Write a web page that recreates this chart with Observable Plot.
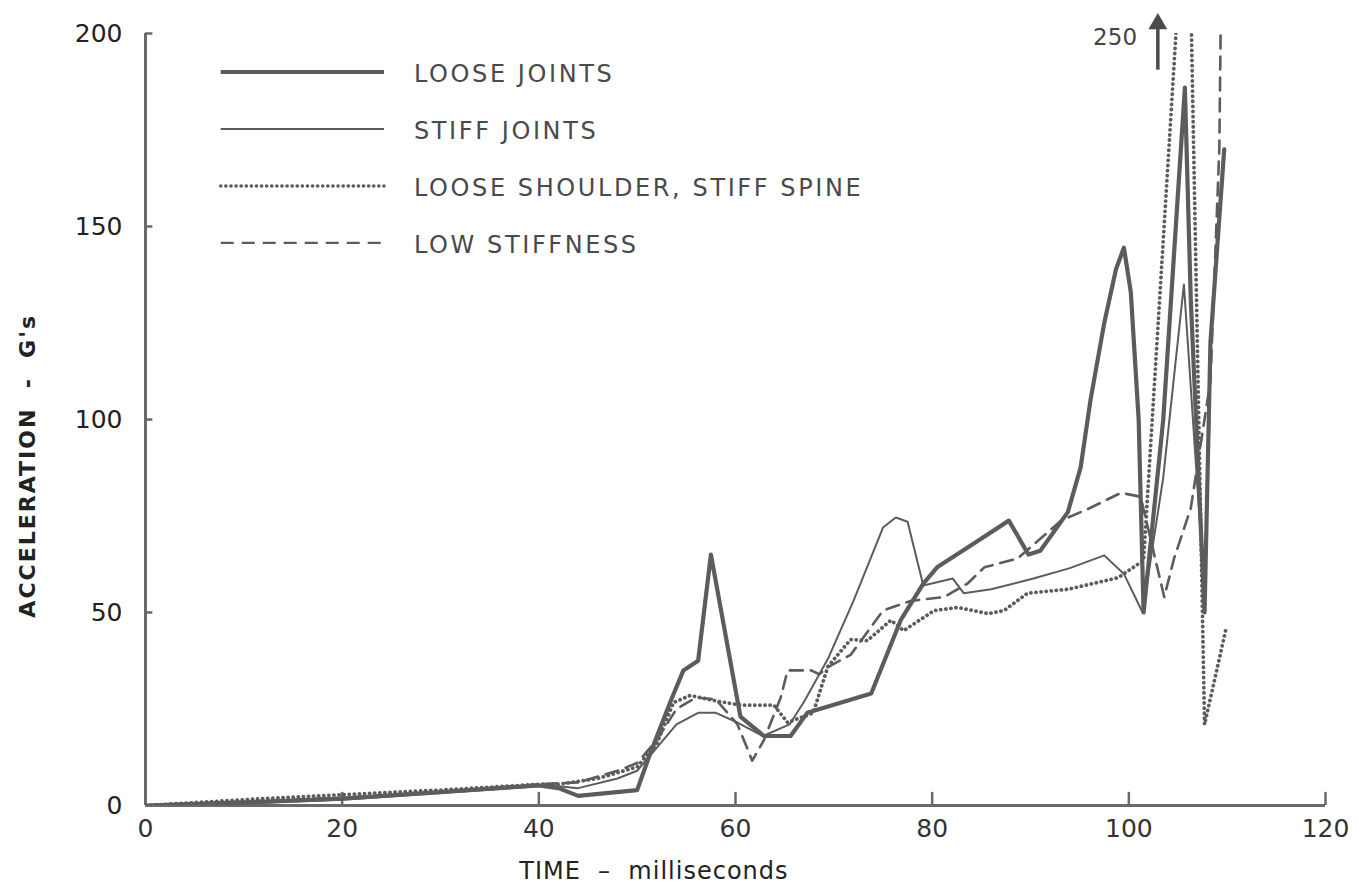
<!DOCTYPE html>
<html>
<head>
<meta charset="utf-8">
<script src="https://cdn.jsdelivr.net/npm/d3@7"></script>
<script src="https://cdn.jsdelivr.net/npm/@observablehq/plot@0.6"></script>
<style>
  html, body { margin: 0; padding: 0; background: #ffffff; }
  #chart { width: 1358px; height: 895px; }
  svg { font-family: "DejaVu Sans", "Liberation Sans", Arial, sans-serif; }
  .legend-text text { letter-spacing: 2.6px; }
  .ylab text { letter-spacing: 2px; }
  .xlab text { letter-spacing: 1px; }
</style>
</head>
<body>
<div id="chart"></div>
<script>
// ---------------- data ----------------
const xTicks = [0, 20, 40, 60, 80, 100, 120];
const yTicks = [0, 50, 100, 150, 200];

const looseT = [0, 10, 20, 30, 40, 42, 44, 50, 51.4, 53.4, 54.7, 56.2, 57.5, 60.5, 62.9, 65.6, 67.3, 73.8, 76.8, 79.1, 80.5, 84, 87.8, 89.8, 91, 93.8, 95.1, 96.1, 97.5, 98.7, 99.5, 100.2, 101, 101.5, 103.5, 105.7, 106.3, 107.7, 108.3, 109.7];
const looseG = [0, 0.8, 1.8, 3.5, 5.2, 4.5, 2.5, 4, 14, 27, 35, 37.5, 65, 23, 18, 18, 24, 29, 48, 57.5, 61.7, 67.5, 73.8, 65, 66, 76, 87.6, 105, 125, 139, 144.5, 133, 100, 50, 100, 186, 131, 50, 120, 170];

const stiffT = [0, 10, 20, 30, 40, 42, 44, 48, 50, 52, 54, 56.2, 58, 60.2, 62.8, 65.5, 67, 69.4, 72, 75, 76.3, 77.5, 79.1, 82.1, 83.2, 86, 90.3, 94, 97.5, 99.5, 101.4, 103.5, 105.6, 107.7, 108.2];
const stiffG = [0, 0.5, 1.5, 3.2, 5, 5, 4.5, 7, 9, 15, 21, 24, 24, 21.5, 18, 21, 27, 38, 53, 72, 74.6, 73.5, 57, 58.8, 55, 56, 58.8, 61.5, 64.8, 60, 50, 85, 135, 55, 100];

const shoulderT = [0, 10, 20, 30, 40, 42, 46, 50, 52, 53.7, 55.4, 58.2, 60.5, 63.9, 65.3, 67.9, 69.4, 71.7, 73.4, 75.8, 77.1, 80.2, 82.6, 85.7, 87.3, 89.7, 93.8, 98.9, 101.5, 106, 107.7, 109.9];
const shoulderG = [0, 1.5, 2.8, 4, 5.5, 5.5, 7, 10, 16, 26.7, 28.5, 27, 26, 26, 21.5, 24, 36, 43, 42.7, 48, 45.3, 50.5, 51.3, 49.7, 50.5, 55, 56, 59, 63.5, 250, 21, 46];

const lowT = [0, 10, 20, 30, 40, 44, 48, 50, 52, 54, 56, 58, 60.2, 61.7, 62.9, 64.6, 65.3, 67.7, 68.5, 69.5, 71.7, 75, 77.8, 81.2, 83.6, 85.3, 88.7, 93.1, 96, 99.2, 101.2, 103.6, 104.6, 106.3, 108.3, 109.2, 109.4];
const lowG = [0, 1, 2, 3.5, 5.5, 6, 9, 11, 17, 25, 28, 27.5, 21, 11.6, 17, 28, 35, 35, 34, 36, 39, 50.5, 53, 54, 57.5, 61.7, 64, 73.8, 77, 81, 80, 54, 64, 77, 110, 170, 215];

const legendLabels = ["LOOSE JOINTS", "STIFF JOINTS", "LOOSE SHOULDER, STIFF SPINE", "LOW STIFFNESS"];
const peakNote = ["250"];
const xLabel = ["TIME  –  milliseconds"];
const yLabel = ["ACCELERATION  -  G's"];

// ---------------- build tables ----------------
const zip = (t, g) => t.map((v, i) => ({t: v, g: g[i]}));
const loose = zip(looseT, looseG);
const stiff = zip(stiffT, stiffG);
const shoulder = zip(shoulderT, shoulderG);
const low = zip(lowT, lowG);

const ink = "#5c5c5c";
const legendY = (i) => 190 - i * 14.75;
const font = "DejaVu Sans, Liberation Sans, Arial, sans-serif";

const chart = Plot.plot({
  width: 1358,
  height: 895,
  marginLeft: 145,
  marginRight: 33,
  marginTop: 33,
  marginBottom: 90,
  x: {domain: [0, 120], axis: null},
  y: {domain: [0, 200], axis: null},
  style: {background: "#ffffff", fontFamily: font},
  marks: [
    // axis lines
    Plot.ruleX([0], {y1: 0, y2: 200, stroke: "#6a6a6a", strokeWidth: 3}),
    Plot.ruleY([0], {x1: 0, x2: 120, stroke: "#6a6a6a", strokeWidth: 3}),
    // inward ticks
    Plot.ruleX(xTicks.slice(1), {x: d => d, y1: 0, y2: 3.4, stroke: "#6a6a6a", strokeWidth: 2.5}),
    Plot.ruleY(yTicks.slice(1), {y: d => d, x1: 0, x2: 0.75, stroke: "#6a6a6a", strokeWidth: 2.5}),
    // tick labels
    Plot.axisX({ticks: xTicks, tickSize: 0, tickPadding: 14, fontSize: 25, label: null, color: "#333"}),
    Plot.axisY({ticks: yTicks, tickSize: 0, tickPadding: 23, fontSize: 25, label: null, color: "#222"}),
    // series
    Plot.line(shoulder, {x: "t", y: "g", stroke: ink, strokeWidth: 3.8, strokeDasharray: "0.1,5", strokeLinecap: "round", clip: true}),
    Plot.line(low, {x: "t", y: "g", stroke: ink, strokeWidth: 2.6, strokeDasharray: "13,8", clip: true}),
    Plot.line(stiff, {x: "t", y: "g", stroke: ink, strokeWidth: 2, strokeLinejoin: "round", clip: true}),
    Plot.line(loose, {x: "t", y: "g", stroke: ink, strokeWidth: 4.2, strokeLinejoin: "round", clip: true}),
    // legend samples
    Plot.ruleY([legendLabels[0]], {y: () => legendY(0), x1: 7.7, x2: 24.3, stroke: ink, strokeWidth: 4}),
    Plot.ruleY([legendLabels[1]], {y: () => legendY(1), x1: 7.7, x2: 24.3, stroke: ink, strokeWidth: 2}),
    Plot.ruleY([legendLabels[2]], {y: () => legendY(2), x1: 7.7, x2: 24.3, stroke: ink, strokeWidth: 3.6, strokeDasharray: "0.1,5", strokeLinecap: "round"}),
    Plot.ruleY([legendLabels[3]], {y: () => legendY(3), x1: 7.7, x2: 24.3, stroke: ink, strokeWidth: 2.4, strokeDasharray: "13,8"}),
    Plot.text(legendLabels, {x: 27.3, y: (d, i) => legendY(i), text: d => d, textAnchor: "start", fontSize: 24, fill: "#4a4a4a", dy: 2, className: "legend-text"}),
    // 250 arrow annotation
    Plot.ruleX(peakNote, {x: () => 102.95, y1: 190.5, y2: 203, stroke: "#4a4a4a", strokeWidth: 3.5, clip: false}),
    Plot.dot(peakNote, {x: () => 102.95, y: () => 202.5, symbol: "triangle", r: 7, fill: "#4a4a4a", stroke: "none"}),
    Plot.text(peakNote, {x: 98.6, y: 199, text: d => d, fontSize: 23, fill: "#444", textAnchor: "middle"}),
    // axis titles
    Plot.text(xLabel, {x: 51.7, y: 0, text: d => d, dy: 66, fontSize: 24, fill: "#222", textAnchor: "middle", className: "xlab"}),
    Plot.text(yLabel, {x: 0, y: 88, text: d => d, dx: -118, rotate: -90, fontSize: 22, fontWeight: "bold", fill: "#222", textAnchor: "middle", className: "ylab"})
  ]
});

document.getElementById("chart").appendChild(chart);
</script>
</body>
</html>
